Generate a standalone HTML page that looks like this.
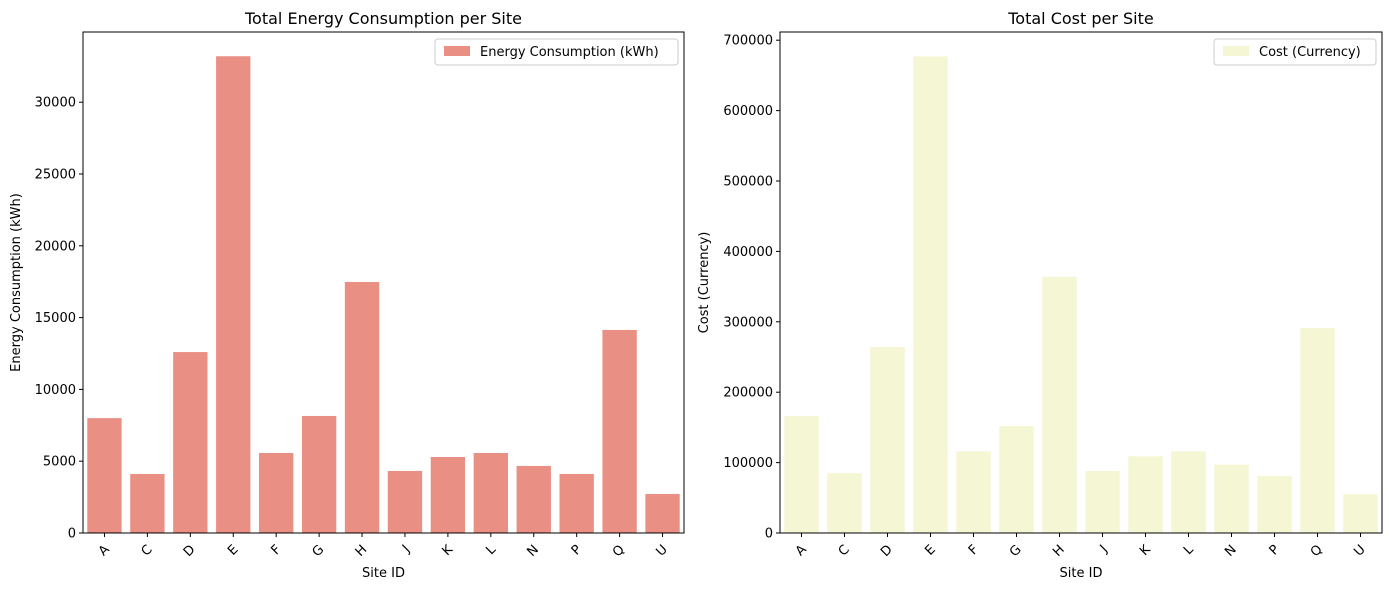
<!DOCTYPE html>
<html><head><meta charset="utf-8"><style>
body{margin:0;background:#fff;font-family:"Liberation Sans","DejaVu Sans",sans-serif;}
svg text{font-family:"DejaVu Sans","Liberation Sans",sans-serif;fill:#000;}
</style></head><body>
<svg id="c" width="1389" height="590" xmlns="http://www.w3.org/2000/svg"></svg>
<script>
const categories=["A","C","D","E","F","G","H","J","K","L","N","P","Q","U"];
const energyValues=[8000,4110,12600,33200,5570,8150,17480,4320,5290,5570,4670,4110,14140,2720];
const costValues=[166000,85000,264000,677000,116000,152000,364000,88000,109000,116000,97000,81000,291000,55000];
const energyTicks=[0,5000,10000,15000,20000,25000,30000];
const costTicks=[0,100000,200000,300000,400000,500000,600000,700000];
const NS="http://www.w3.org/2000/svg";
const svg=document.getElementById('c');
function mk(tag,attrs,parent){const e=document.createElementNS(NS,tag);for(const k in attrs)e.setAttribute(k,attrs[k]);(parent||svg).appendChild(e);return e;}
function panel(name,x0,x1,y0,y1,vals,ticks,perTick,tickStep,color,title,ylab,leg,legW,ylabX){
  const g=mk('g',{});
  
  
  const bw=(x1-x0)/categories.length;
  const yS=v=>y1-v/tickStep*perTick;
  categories.forEach((c,i)=>{
    const h=y1-yS(vals[i]);
    const r=mk('rect',{x:x0+i*bw+bw*0.1,y:yS(vals[i]),width:bw*0.8,height:h,fill:color},g);
    
    
    const cx=x0+i*bw+bw/2;
    mk('line',{x1:cx,x2:cx,y1:y1,y2:y1+4,stroke:'#000'},g);
    const t=mk('text',{x:cx,y:y1+16,'font-size':13,'text-anchor':'end',transform:`rotate(-45 ${cx+4} ${y1+10})`},g);
    t.textContent=c;
    
    
  });
  ticks.forEach(v=>{
    const y=yS(v);
    mk('line',{x1:x0-4,x2:x0,y1:y,y2:y,stroke:'#000'},g);
    const t=mk('text',{x:x0-7,y:y+4.5,'font-size':13,'text-anchor':'end'},g);
    t.textContent=v;
    
    
  });
  const fr=mk('rect',{x:x0,y:y0,width:x1-x0,height:y1-y0,fill:'none',stroke:'#000','stroke-width':1},g);
  
  
  const tt=mk('text',{x:(x0+x1)/2,y:24,'font-size':16,'text-anchor':'middle'},g);
  tt.textContent=title;
  
  
  const xl=mk('text',{x:(x0+x1)/2,y:577,'font-size':13,'text-anchor':'middle'},g);
  xl.textContent='Site ID';
  
  
  const yc=(y0+y1)/2;
  const yl=mk('text',{x:ylabX,y:yc,'font-size':13,'text-anchor':'middle',transform:`rotate(-90 ${ylabX} ${yc})`},g);
  yl.textContent=ylab;
  
  
  const lx=x1-6-legW;
  const lg=mk('g',{},g);
  
  
  mk('rect',{x:lx,y:39,width:legW,height:26,rx:3,fill:'#fff',stroke:'#ccc'},lg);
  mk('rect',{x:lx+9,y:46,width:26,height:10,fill:color},lg);
  const lt=mk('text',{x:lx+45,y:56,'font-size':13},lg);
  lt.textContent=leg;
}
panel('energy',83,684,32,533,energyValues,energyTicks,71.8,5000,'#e98f83','Total Energy Consumption per Site','Energy Consumption (kWh)','Energy Consumption (kWh)',243,20);
panel('cost',780,1382,32,533,costValues,costTicks,70.4,100000,'#f5f6d4','Total Cost per Site','Cost (Currency)','Cost (Currency)',162,708);
</script>
</body></html>
